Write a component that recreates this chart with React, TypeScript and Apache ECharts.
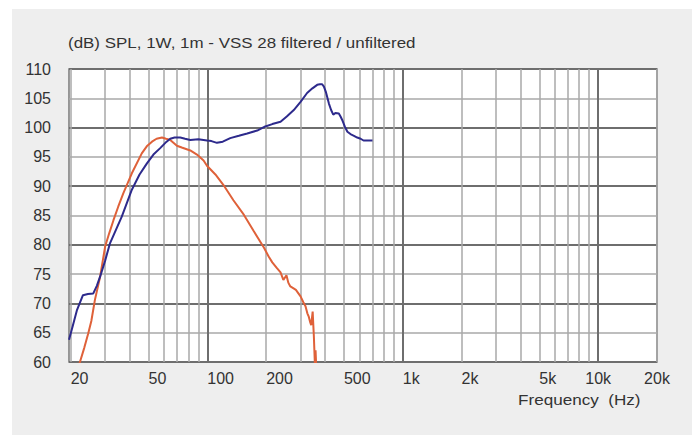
import React, { useEffect, useRef } from "react";
import * as echarts from "echarts";

const blueFreq = [19.6, 20.5, 21.5, 23.1, 24.5, 26.1, 27.2, 28.3, 30, 31.8, 33.5, 36.5, 41.1, 45, 49.1, 53, 57.4, 61, 64.6, 68, 72.7, 77, 81.8, 90, 99.6, 105, 112, 120, 131, 145, 160, 180, 198, 215, 237, 255, 277, 300, 324, 345, 365, 377, 387, 395, 405, 419, 430, 441, 452, 471, 482, 490, 505, 521, 540, 563, 585, 609, 630, 645, 670, 700];
const blueDb = [63.8, 66.2, 68.8, 71.4, 71.6, 71.7, 73.0, 74.6, 77.3, 80.3, 82.0, 84.8, 89.4, 92.0, 93.9, 95.4, 96.5, 97.4, 98.1, 98.3, 98.3, 98.1, 97.9, 98.0, 97.8, 97.7, 97.4, 97.6, 98.2, 98.6, 99.0, 99.5, 100.2, 100.6, 101.0, 101.9, 103.0, 104.4, 105.9, 106.7, 107.3, 107.4, 107.4, 107.0, 106.0, 104.1, 103.0, 102.2, 102.5, 102.4, 101.8, 101.3, 100.2, 99.3, 98.9, 98.6, 98.3, 98.1, 97.8, 97.8, 97.8, 97.8];

const orangeFreq = [21.0, 22.3, 23.5, 24.6, 25.5, 26.6, 28.3, 30.0, 31.5, 33.1, 35, 37.2, 41.1, 46.2, 49, 52.1, 55, 58.6, 61.5, 64.6, 69.9, 74, 81.8, 88.5, 95.7, 99.6, 110, 121, 136, 154, 173, 195, 206, 215, 226, 237, 245, 254, 260, 266, 275, 284, 300, 310, 318, 325, 330, 336, 340, 346, 351, 355, 358, 362, 366];
const orangeDb = [57.0, 60.0, 62.5, 64.9, 67.0, 70.6, 74.6, 79.7, 82.0, 84.2, 86.5, 88.8, 92.2, 95.6, 96.8, 97.6, 98.1, 98.3, 98.1, 97.9, 96.9, 96.6, 96.1, 95.4, 94.4, 93.5, 92.0, 90.2, 87.6, 85.1, 82.3, 79.5, 78.0, 77.0, 76.1, 75.3, 74.0, 74.8, 73.5, 72.9, 72.6, 72.3, 71.2, 70.2, 69.5, 68.3, 67.8, 66.8, 66.3, 68.6, 64.3, 59.8, 62.0, 58.0, 55.0];

const tickValues = [20, 50, 100, 200, 500, 1000, 2000, 5000];
const tickLabels = ["20", "50", "100", "200", "500", "1k", "2k", "5k"];
const endTickValues = [10000, 20000];
const endTickLabels = ["10k", "20k"];
const minorGrid = [20, 30, 40, 50, 60, 70, 80, 90, 200, 300, 400, 500, 600, 700, 800, 900, 2000, 3000, 4000, 5000, 6000, 7000, 8000, 9000, 20000];
const majorGrid = [100, 1000, 10000];

const X_MIN = 19.6;
const X_MAX = 20000;
const FONT = "Liberation Sans, Arial, sans-serif";

const lg = (v: number) => Math.log10(v);

function labelFor(values: number[], labels: string[]) {
  return (v: number) => {
    let best = 0;
    let bd = Infinity;
    values.forEach((t, i) => {
      const d = Math.abs(lg(t) - v);
      if (d < bd) {
        bd = d;
        best = i;
      }
    });
    return labels[best];
  };
}

export default function App() {
  const ref = useRef<HTMLDivElement>(null);
  useEffect(() => {
    if (!ref.current) return;
    const chart = echarts.init(ref.current, undefined, { renderer: "svg" });
    const baseX = {
      type: "value",
      min: lg(X_MIN),
      max: lg(X_MAX),
      position: "bottom",
      axisLine: { show: false },
    };
    const labelStyle = { fontSize: 16, color: "#333", fontFamily: FONT };
    chart.setOption({
      animation: false,
      backgroundColor: "transparent",
      graphic: [
        {
          type: "text",
          x: 68,
          y: 35,
          scaleX: 1.13,
          style: {
            text: "(dB) SPL, 1W, 1m - VSS 28 filtered / unfiltered",
            fontSize: 15,
            fill: "#333",
            fontFamily: FONT,
            textVerticalAlign: "top",
          },
        },
        {
          type: "text",
          x: 518,
          y: 392,
          scaleX: 1.14,
          style: {
            text: "Frequency  (Hz)",
            fontSize: 15,
            fill: "#333",
            fontFamily: FONT,
            textVerticalAlign: "top",
          },
        },
      ],
      grid: {
        left: 69,
        top: 69,
        width: 588,
        height: 293,
        show: true,
        backgroundColor: "#ffffff",
        borderColor: "#787878",
        borderWidth: 1.5,
        containLabel: false,
      },
      xAxis: [
        {
          ...baseX,
          axisTick: { show: false, customValues: minorGrid.map(lg) },
          splitLine: { show: true, lineStyle: { color: "#a8a8a8", width: 1.5 } },
          axisLabel: {
            customValues: tickValues.map(lg),
            formatter: labelFor(tickValues, tickLabels),
            align: "left",
            margin: 8,
            ...labelStyle,
          },
        },
        {
          ...baseX,
          axisTick: { show: false, customValues: majorGrid.map(lg) },
          splitLine: { show: true, lineStyle: { color: "#6e6e6e", width: 2 } },
          axisLabel: {
            customValues: endTickValues.map(lg),
            formatter: labelFor(endTickValues, endTickLabels),
            align: "center",
            margin: 8,
            showMaxLabel: true,
            ...labelStyle,
          },
        },
      ],
      yAxis: [
        {
          type: "value",
          min: 60,
          max: 110,
          interval: 5,
          axisLine: { show: false },
          axisTick: { show: false },
          splitLine: { show: true, lineStyle: { color: "#a8a8a8", width: 1.5 } },
          axisLabel: { margin: 18, ...labelStyle },
        },
        {
          type: "value",
          min: 60,
          max: 110,
          interval: 10,
          position: "left",
          axisLine: { show: false },
          axisTick: { show: false },
          axisLabel: { show: false },
          splitLine: { show: true, lineStyle: { color: "#6e6e6e", width: 2 } },
        },
      ],
      series: [
        {
          type: "line",
          xAxisIndex: 0,
          yAxisIndex: 0,
          showSymbol: false,
          z: 3,
          clip: true,
          lineStyle: { color: "#df6139", width: 2 },
          itemStyle: { color: "#df6139" },
          data: orangeFreq.map((f, i) => [lg(f), orangeDb[i]]),
        },
        {
          type: "line",
          xAxisIndex: 0,
          yAxisIndex: 0,
          showSymbol: false,
          z: 4,
          clip: true,
          lineStyle: { color: "#2d2a8c", width: 2 },
          itemStyle: { color: "#2d2a8c" },
          data: blueFreq.map((f, i) => [lg(f), blueDb[i]]),
        },
      ],
    });
    return () => chart.dispose();
  }, []);
  return (
    <div style={{ position: "absolute", left: 0, top: 0, width: 696, height: 435, background: "#ffffff" }}>
      <div style={{ position: "absolute", left: 12, top: 9, width: 680, height: 426, background: "#eeeeee" }} />
      <div ref={ref} style={{ position: "absolute", left: 0, top: 0, width: 696, height: 435 }} />
    </div>
  );
}
